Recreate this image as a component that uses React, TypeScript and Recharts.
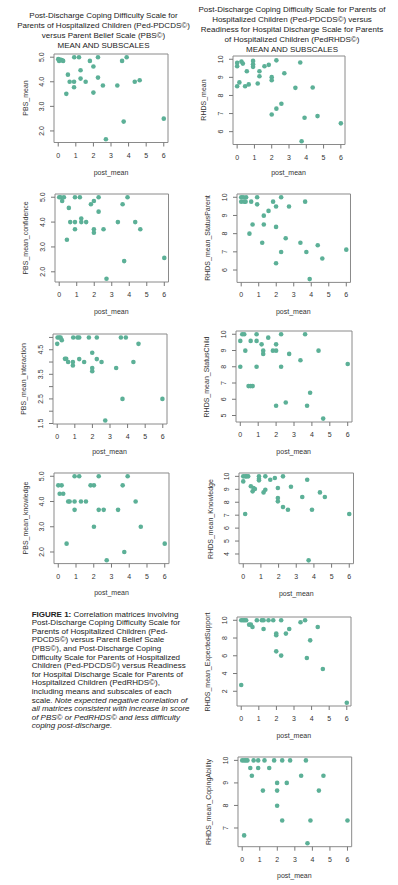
import React from 'react';
import { ScatterChart, Scatter, XAxis, YAxis, ReferenceArea } from 'recharts';

type Pt = [number, number];

// shared x axis (post_mean)
const X_TICKS = [0, 1, 2, 3, 4, 5, 6];
const X_DOMAIN: [number, number] = [-0.24, 6.24];

const DOT = '#5cb097';
const FONT = '"Liberation Sans", Arial, sans-serif';

// PBS panels (left column)
const pbsMean: Pt[] = [
  [0, 4.92], [0.05, 4.85], [0.1, 4.9], [0.2, 4.88], [0.28, 4.85], [0.46, 3.51], [0.55, 4.29],
  [0.65, 4.0], [0.91, 5.0], [0.9, 4.0], [0.9, 3.78], [1.18, 5.0], [1.27, 4.47], [1.27, 4.13],
  [1.56, 4.0], [1.8, 4.85], [2.0, 4.62], [2.0, 3.56], [2.26, 5.0], [2.26, 4.17], [2.54, 3.85],
  [2.71, 1.66], [3.36, 3.85], [3.63, 4.85], [3.72, 2.38], [3.89, 5.0], [4.35, 4.0], [4.63, 4.06],
  [6.0, 2.5],
];

const pbsConfidence: Pt[] = [
  [0, 5.0], [0.08, 5.0], [0.27, 5.0], [0.17, 4.85], [0.55, 4.57], [0.44, 3.29], [0.63, 4.0],
  [0.9, 5.0], [0.9, 4.0], [0.9, 3.71], [1.18, 5.0], [1.26, 4.14], [1.26, 4.0], [1.54, 4.0],
  [1.81, 4.72], [1.98, 4.85], [1.98, 3.71], [1.98, 3.57], [2.25, 5.0], [2.25, 4.42], [2.53, 3.71],
  [2.7, 1.72], [3.35, 4.0], [3.62, 4.72], [3.71, 2.43], [3.9, 5.0], [4.34, 4.0], [4.63, 3.71],
  [6.0, 2.56],
];

const pbsInteraction: Pt[] = [
  [0, 4.74], [0.02, 5.0], [0.11, 5.0], [0.19, 5.0], [0.26, 4.89], [0.44, 4.13], [0.51, 4.13],
  [0.62, 4.0], [0.89, 4.0], [0.89, 3.86], [0.91, 5.0], [1.15, 5.0], [1.25, 5.0], [1.25, 4.12],
  [1.53, 4.0], [1.8, 5.0], [1.99, 4.38], [1.99, 3.76], [1.99, 3.63], [2.25, 5.0], [2.25, 4.12],
  [2.52, 4.0], [2.73, 1.62], [3.35, 3.76], [3.62, 5.0], [3.71, 2.5], [3.9, 5.0], [4.33, 4.0],
  [4.62, 4.74], [5.98, 2.5],
];

const pbsKnowledge: Pt[] = [
  [0, 4.64], [0.08, 4.31], [0.19, 4.64], [0.28, 4.31], [0.47, 2.33], [0.56, 4.0], [0.64, 4.0],
  [0.92, 5.0], [0.92, 4.0], [0.92, 3.67], [1.18, 5.0], [1.28, 4.0], [1.56, 4.0], [1.82, 4.64],
  [2.01, 4.64], [2.01, 3.0], [2.28, 5.0], [2.28, 3.67], [2.56, 3.67], [2.73, 1.67], [3.37, 3.67],
  [3.63, 4.64], [3.72, 2.0], [3.91, 5.0], [4.36, 4.0], [4.65, 3.0], [6.0, 2.33],
];

// PedRHDS panels (right column)
const rhdsMean: Pt[] = [
  [0, 9.8], [0, 9.61], [0, 8.51], [0.13, 8.72], [0.25, 9.87], [0.33, 9.76], [0.46, 8.51],
  [0.56, 9.34], [0.67, 8.61], [0.92, 9.91], [0.92, 9.72], [0.92, 9.58], [1.19, 8.66], [1.29, 9.34],
  [1.29, 9.06], [1.58, 9.61], [1.83, 9.69], [2.0, 9.01], [2.0, 8.84], [2.0, 6.95], [2.27, 9.94],
  [2.27, 7.27], [2.56, 7.54], [2.73, 9.23], [3.37, 8.42], [3.65, 9.82], [3.73, 5.47], [3.9, 6.77],
  [4.37, 8.44], [4.65, 6.86], [6.0, 6.46],
];

const rhdsStatusParent: Pt[] = [
  [0, 10], [0, 9.76], [0.11, 10], [0.17, 9.76], [0.28, 10], [0.25, 9.76], [0.47, 8.0], [0.57, 9.76],
  [0.65, 8.5], [0.91, 10], [0.91, 9.61], [1.2, 7.5], [1.29, 8.99], [1.29, 8.5], [1.56, 9.25],
  [1.82, 9.76], [1.99, 9.49], [1.99, 8.37], [1.99, 6.37], [2.28, 10], [2.28, 6.99], [2.54, 7.75],
  [2.73, 9.49], [3.38, 7.5], [3.65, 9.76], [3.72, 6.99], [3.91, 5.5], [4.37, 7.36], [4.63, 6.63],
  [6.0, 7.12],
];

const rhdsStatusChild: Pt[] = [
  [0, 9.59], [0, 8.0], [0.11, 10], [0.22, 10], [0.28, 8.99], [0.46, 6.81], [0.58, 9.59], [0.58, 6.81],
  [0.69, 6.81], [0.91, 10], [0.91, 9.59], [0.91, 8.0], [1.19, 9.38], [1.28, 8.99], [1.28, 8.79],
  [1.56, 9.79], [1.82, 8.99], [2.0, 8.99], [2.0, 9.38], [2.0, 5.6], [2.28, 10], [2.28, 8.0],
  [2.54, 5.8], [2.73, 8.79], [3.36, 8.4], [3.62, 10], [3.73, 5.6], [3.9, 6.4], [4.37, 8.99],
  [4.63, 4.81], [6.0, 8.17],
];

const rhdsKnowledge: Pt[] = [
  [0, 9.61], [0, 10], [0.11, 10], [0.11, 7.09], [0.19, 10], [0.28, 10], [0.43, 9.23], [0.53, 8.84],
  [0.58, 9.1], [0.66, 9.02], [0.89, 10], [0.89, 9.82], [0.89, 9.69], [1.15, 8.76], [1.25, 8.97],
  [1.25, 10], [1.53, 9.74], [1.79, 9.87], [1.96, 9.1], [1.96, 8.33], [1.96, 8.07], [2.25, 10],
  [2.25, 7.63], [2.53, 7.42], [2.7, 9.2], [3.34, 8.4], [3.62, 9.74], [3.7, 3.51], [3.89, 7.42],
  [4.34, 8.76], [4.62, 8.4], [6.0, 7.09],
];

const rhdsExpectedSupport: Pt[] = [
  [0, 10], [0, 2.71], [0.1, 10], [0.19, 10], [0.28, 10], [0.45, 9.51], [0.55, 9.51], [0.64, 9.25],
  [0.89, 10], [1.17, 10], [1.27, 10], [1.27, 9.02], [1.55, 10], [1.82, 10], [1.99, 8.5], [1.99, 8.31],
  [1.99, 6.5], [2.27, 10], [2.27, 6.02], [2.54, 8.5], [2.73, 9.02], [3.37, 9.77], [3.63, 10],
  [3.73, 5.75], [3.92, 7.74], [4.35, 9.25], [4.64, 4.51], [6.0, 0.71],
];

const rhdsCopingAbility: Pt[] = [
  [0, 10], [0.11, 10], [0.21, 10], [0.3, 10], [0.11, 6.67], [0.46, 9.66], [0.55, 9.32], [0.65, 10],
  [0.91, 10], [0.91, 9.66], [1.18, 8.66], [1.27, 10], [1.54, 9.66], [1.82, 10], [1.99, 9.0],
  [1.99, 8.66], [1.99, 7.99], [2.28, 10], [2.28, 7.33], [2.54, 9.0], [2.73, 10], [3.36, 9.32],
  [3.63, 10], [3.72, 6.32], [3.89, 7.33], [4.37, 8.66], [4.63, 9.32], [6.0, 7.33],
];

const TICKS_PBS = [2, 3, 4, 5];
const TICKS_INTERACTION = [1.5, 2, 2.5, 3, 3.5, 4, 4.5, 5];
const LABELS_INTERACTION = [1.5, 2.5, 3.5, 4.5];

interface Box { x: number; y: number; w: number; h: number }

interface PanelProps {
  box: Box;
  data: Pt[];
  yDomain: [number, number];
  yTicks: number[];
  yShown?: number[];
  digits: number;
  yName: string;
  xLabelY: number;
}

const AX = 40; // room left of the plot box for the y axis
const TOP = 10; // room above the plot box so end labels are not clipped

const Panel = ({ box, data, yDomain, yTicks, yShown, digits, yName, xLabelY }: PanelProps) => {
  const pts = data.map(([x, y]) => ({ x, y }));
  const shown = yShown ?? yTicks;
  return (
    <>
      <div style={{ position: 'absolute', left: box.x - AX, top: box.y - TOP }}>
        <ScatterChart
          width={box.w + AX + 6}
          height={box.h + 30 + TOP}
          margin={{ top: TOP, right: 6, bottom: 0, left: 0 }}
        >
          <XAxis
            type="number"
            dataKey="x"
            domain={X_DOMAIN}
            ticks={X_TICKS}
            interval={0}
            height={30}
            axisLine={false}
            tickSize={4}
            tickLine={{ stroke: '#777' }}
            allowDataOverflow
            tick={(p: any) => (
              <text x={p.x} y={TOP + box.h + 15} textAnchor="middle" fontSize={7} fill="#333" fontFamily={FONT}>
                {p.payload.value}
              </text>
            )}
          />
          <YAxis
            type="number"
            dataKey="y"
            domain={yDomain}
            ticks={yTicks}
            interval={0}
            width={AX}
            axisLine={false}
            tickSize={4}
            tickLine={{ stroke: '#777' }}
            allowDataOverflow
            tick={(p: any) => {
              const v = p.payload.value;
              if (!shown.some((s) => Math.abs(s - v) < 1e-6)) return <g />;
              const tx = AX - 10;
              return (
                <text
                  x={tx}
                  y={p.y}
                  transform={`rotate(-90 ${tx} ${p.y})`}
                  textAnchor="middle"
                  fontSize={7}
                  fill="#333"
                  fontFamily={FONT}
                >
                  {v.toFixed(digits)}
                </text>
              );
            }}
          />
          <ReferenceArea
            x1={X_DOMAIN[0]}
            x2={X_DOMAIN[1]}
            y1={yDomain[0]}
            y2={yDomain[1]}
            fill="none"
            stroke="#8a8a8a"
            strokeWidth={1}
          />
          <Scatter
            data={pts}
            isAnimationActive={false}
            shape={(p: any) => <circle cx={p.cx} cy={p.cy} r={2.3} fill={DOT} />}
          />
        </ScatterChart>
      </div>
      <div
        style={{
          position: 'absolute',
          left: box.x - 28.5,
          top: box.y + box.h / 2,
          transform: 'translate(-50%, -50%) rotate(-90deg)',
          whiteSpace: 'nowrap',
          fontSize: 7,
          lineHeight: '8px',
          color: '#333',
        }}
      >
        {yName}
      </div>
      <div
        style={{
          position: 'absolute',
          left: box.x + box.w / 2,
          top: xLabelY,
          transform: 'translate(-50%, -50%)',
          whiteSpace: 'nowrap',
          fontSize: 7,
          lineHeight: '8px',
          color: '#333',
        }}
      >
        post_mean
      </div>
    </>
  );
};

const titleLeft = [
  'Post-Discharge Coping Difficulty Scale for',
  'Parents of Hospitalized Children (Ped-PDCDS©)',
  'versus Parent Belief Scale (PBS©)',
  'MEAN AND SUBSCALES',
];

const titleRight = [
  'Post-Discharge Coping Difficulty Scale for Parents of',
  'Hospitalized Children (Ped-PDCDS©) versus',
  'Readiness for Hospital Discharge Scale for Parents',
  'of Hospitalized Children (PedRHDS©)',
  'MEAN AND SUBSCALES',
];

const Title = ({ lines, cx, top }: { lines: string[]; cx: number; top: number }) => (
  <div
    style={{
      position: 'absolute',
      left: cx - 110,
      top,
      width: 220,
      textAlign: 'center',
      fontSize: 8,
      lineHeight: '10px',
      color: '#222',
    }}
  >
    {lines.map((l) => (
      <div key={l}>{l}</div>
    ))}
  </div>
);

export default function App() {
  return (
    <div
      style={{
        position: 'absolute',
        left: 0,
        top: 0,
        width: 398,
        height: 885,
        background: '#fff',
        fontFamily: FONT,
        overflow: 'hidden',
      }}
    >
      <Title lines={titleLeft} cx={103.5} top={11} />
      <Title lines={titleRight} cx={292} top={5} />

      <Panel box={{ x: 54, y: 54, w: 114, h: 88.5 }} data={pbsMean} yDomain={[1.53, 5.13]}
        yTicks={TICKS_PBS} digits={1} yName="PBS_mean" xLabelY={172.7} />
      <Panel box={{ x: 232.5, y: 56, w: 112, h: 88.5 }} data={rhdsMean} yDomain={[5.29, 10.18]}
        yTicks={[6, 7, 8, 9, 10]} digits={0} yName="RHDS_mean" xLabelY={173.3} />

      <Panel box={{ x: 54.5, y: 193.5, w: 113.5, h: 88 }} data={pbsConfidence} yDomain={[1.59, 5.13]}
        yTicks={TICKS_PBS} digits={1} yName="PBS_mean_confidence" xLabelY={311.7} />
      <Panel box={{ x: 236.5, y: 194, w: 113.5, h: 88.4 }} data={rhdsStatusParent} yDomain={[5.32, 10.18]}
        yTicks={[6, 7, 8, 9, 10]} digits={0} yName="RHDS_mean_StatusParent" xLabelY={311.7} />

      <Panel box={{ x: 52.5, y: 333.6, w: 114, h: 90 }} data={pbsInteraction} yDomain={[1.48, 5.14]}
        yTicks={TICKS_INTERACTION} yShown={LABELS_INTERACTION} digits={1} yName="PBS_mean_interaction" xLabelY={451.7} />
      <Panel box={{ x: 235.7, y: 331, w: 116, h: 91 }} data={rhdsStatusChild} yDomain={[4.6, 10.2]}
        yTicks={[5, 6, 7, 8, 9, 10]} digits={0} yName="RHDS_mean_StatusChild" xLabelY={451.7} />

      <Panel box={{ x: 54, y: 472.7, w: 115, h: 90.6 }} data={pbsKnowledge} yDomain={[1.54, 5.13]}
        yTicks={TICKS_PBS} digits={1} yName="PBS_mean_knowledge" xLabelY={593.3} />
      <Panel box={{ x: 239, y: 473.3, w: 114.5, h: 90.7 }} data={rhdsKnowledge} yDomain={[3.25, 10.26]}
        yTicks={[4, 5, 6, 7, 8, 9, 10]} digits={0} yName="RHDS_mean_Knowledge" xLabelY={594} />

      <Panel box={{ x: 236.8, y: 617.4, w: 114, h: 89 }} data={rhdsExpectedSupport} yDomain={[0.34, 10.37]}
        yTicks={[2, 4, 6, 8, 10]} digits={0} yName="RHDS_mean_ExpectedSupport" xLabelY={736} />
      <Panel box={{ x: 237.5, y: 757.3, w: 113.7, h: 89.7 }} data={rhdsCopingAbility} yDomain={[6.17, 10.15]}
        yTicks={[7, 8, 9, 10]} digits={0} yName="RHDS_mean_CopingAbility" xLabelY={876} />

      <div
        style={{
          position: 'absolute',
          left: 31.7,
          top: 610.7,
          fontSize: 8,
          lineHeight: '8.6px',
          color: '#222',
          whiteSpace: 'nowrap',
        }}
      >
        <b>FIGURE 1:</b> Correlation matrices involving<br />
        Post-Discharge Coping Difficulty Scale for<br />
        Parents of Hospitalized Children (Ped-<br />
        PDCDS©) versus Parent Belief Scale<br />
        (PBS©), and Post-Discharge Coping<br />
        Difficulty Scale for Parents of Hospitalized<br />
        Children (Ped-PDCDS©) versus Readiness<br />
        for Hospital Discharge Scale for Parents of<br />
        Hospitalized Children (PedRHDS©),<br />
        including means and subscales of each<br />
        scale. <i>Note expected negative correlation of</i><br />
        <i>all matrices consistent with increase in score</i><br />
        <i>of PBS© or PedRHDS© and less difficulty</i><br />
        <i>coping post-discharge.</i>
      </div>
    </div>
  );
}
